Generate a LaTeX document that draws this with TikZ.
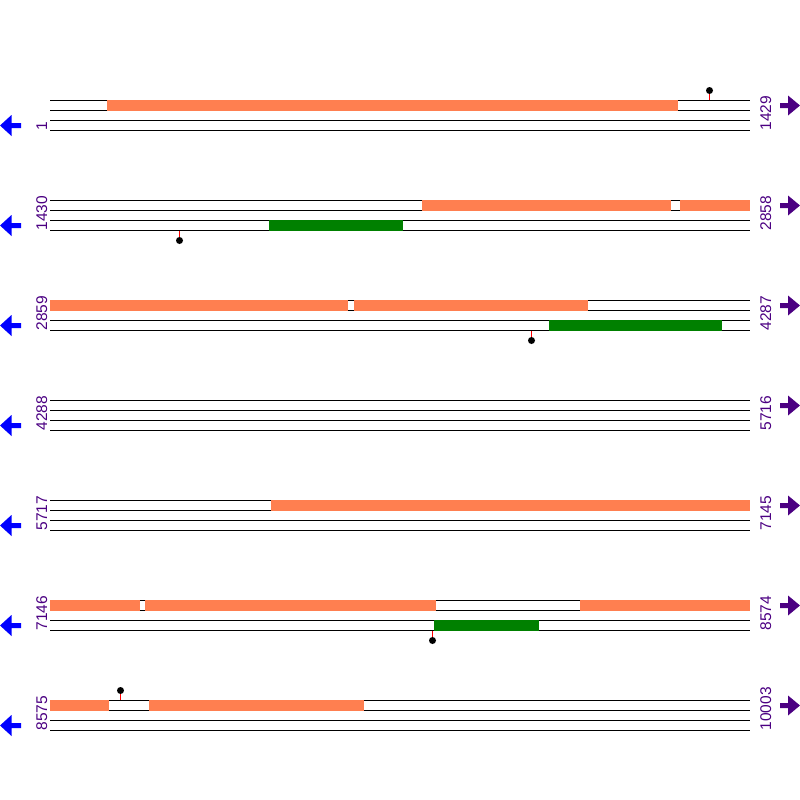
\documentclass[tikz,border=0pt]{standalone}
\usepackage{fontspec}
\setmainfont{Liberation Sans}
\usetikzlibrary{arrows}

\definecolor{cdsorange}{HTML}{FF7F50}
\definecolor{cdsgreen}{HTML}{008000}
\definecolor{posindigo}{HTML}{4B0082}

\begin{document}
\begin{tikzpicture}[x=1pt, y=-1pt]
        \tikzset{strand/.style={black, line width=1pt}}
        \tikzset{fwdcds/.style={fill=cdsorange}}
        \tikzset{revcds/.style={fill=cdsgreen}}
        \tikzset{poslabel/.style={text=posindigo, rotate=90, anchor=base west, inner sep=0pt, font=\fontsize{15.5}{18}\selectfont}}
        \tikzset{site/.style={circle, fill=black, inner sep=0pt, minimum size=7pt}}
        \tikzset{stem/.style={red, line width=1pt}}
        \useasboundingbox (0,0) rectangle (800,800);
        % one block per row: four strand lines, positions, direction arrows
        \foreach \y/\from/\to [count=\i] in {100/1/1429, 200/1430/2858, 300/2859/4287,
            400/4288/5716, 500/5717/7145, 600/7146/8574, 700/8575/10003} {
          \foreach \d in {0,10,20,30}
            \draw[strand] (50,\y+\d+0.5) -- (750,\y+\d+0.5);
          \node[poslabel] (start\i) at (47,\y+30.5) {\from};
          \node[poslabel] (end\i) at (771,\y+30.5) {\to};
          \fill[blue] (0,\y+25.5) -- (11.5,\y+15) -- (11.5,\y+23) -- (21,\y+23)
            -- (21,\y+28) -- (11.5,\y+28) -- (11.5,\y+36) -- cycle;
          \fill[posindigo] (800,\y+5.5) -- (788,\y-4.5) -- (788,\y+3) -- (780,\y+3)
            -- (780,\y+8) -- (788,\y+8) -- (788,\y+15.5) -- cycle;
        }
        % forward features
        \fill[fwdcds] (107,100) rectangle (678,111);
        \fill[fwdcds] (422,200) rectangle (671,211);
        \fill[fwdcds] (680,200) rectangle (750,211);
        \fill[fwdcds] (50,300) rectangle (348,311);
        \fill[fwdcds] (354,300) rectangle (588,311);
        \fill[fwdcds] (271,500) rectangle (750,511);
        \fill[fwdcds] (50,600) rectangle (140,611);
        \fill[fwdcds] (145,600) rectangle (436,611);
        \fill[fwdcds] (580,600) rectangle (750,611);
        \fill[fwdcds] (50,700) rectangle (109,711);
        \fill[fwdcds] (149,700) rectangle (364,711);
        % reverse features
        \fill[revcds] (269,220) rectangle (403,231);
        \fill[revcds] (549,320) rectangle (722,331);
        \fill[revcds] (434,620) rectangle (539,631);
        % sites
        \coordinate (base1) at (709.5,100);
        \node[site] (site1) at (709.5,90.5) {};
        \coordinate (base2) at (179.5,231);
        \node[site] (site2) at (179.5,240.5) {};
        \coordinate (base3) at (531.5,331);
        \node[site] (site3) at (531.5,340.5) {};
        \coordinate (base4) at (432.5,631);
        \node[site] (site4) at (432.5,640.5) {};
        \coordinate (base5) at (120.5,700);
        \node[site] (site5) at (120.5,690.5) {};
        \foreach \k in {1,...,5}
          \draw[stem] (base\k) -- (site\k);
      \end{tikzpicture}
\end{document}
